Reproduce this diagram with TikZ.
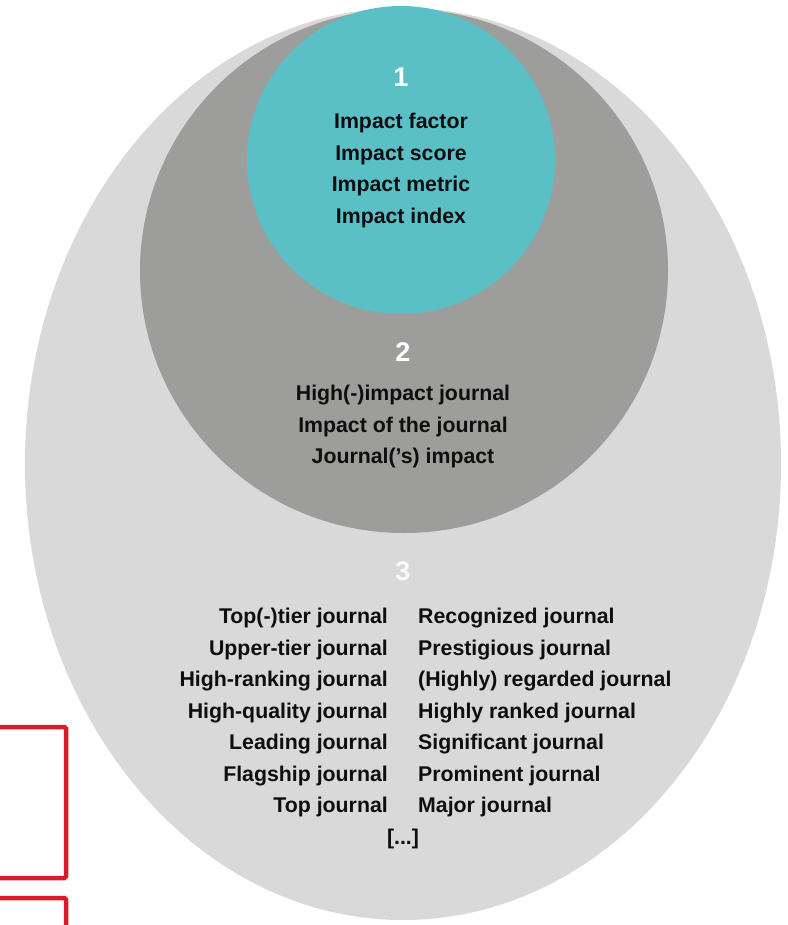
\documentclass[tikz,border=0pt]{standalone}
\usepackage{fontspec}
\setmainfont{Liberation Sans}
\definecolor{lightg}{HTML}{D9D9D9}
\definecolor{darkg}{HTML}{9D9D9B}
\definecolor{tealc}{HTML}{5BC0C6}
\definecolor{redc}{HTML}{D21F2B}
\definecolor{txt}{HTML}{0E0E0E}
\begin{document}
\begin{tikzpicture}[x=1pt,y=-1pt,
  lbl/.style={font=\bfseries\fontsize{21.3}{31.5}\selectfont, text=txt, inner sep=0pt},
  num/.style={font=\bfseries\fontsize{27}{30}\selectfont, text=white, inner sep=0pt},
  redbox/.style={draw=redc, line width=4.5pt, rounded corners=1.5pt}]
\useasboundingbox (0,0) rectangle (787,925);
% regions
\fill[lightg] (403,464) ellipse [x radius=378, y radius=456];
\fill[darkg] (404,271) ellipse [x radius=264, y radius=262];
\fill[tealc] (401,160) circle [radius=154];
% level 1
\node[num] (n1) at (401,77) {1};
\node[lbl, align=center, anchor=north] (t1) at (401,113) {Impact factor\\Impact score\\Impact metric\\Impact index};
% level 2
\node[num] (n2) at (403,352) {2};
\node[lbl, align=center, anchor=north] (t2) at (403,385) {High(-)impact journal\\Impact of the journal\\Journal('s) impact};
% level 3
\node[num, text=white!85!lightg] (n3) at (403,571) {3};
\node[lbl, align=right, anchor=north east] (t3l) at (388,608) {Top(-)tier journal\\Upper-tier journal\\High-ranking journal\\High-quality journal\\Leading journal\\Flagship journal\\Top journal};
\node[lbl, align=left, anchor=north west] (t3r) at (418,608) {Recognized journal\\Prestigious journal\\(Highly) regarded journal\\Highly ranked journal\\Significant journal\\Prominent journal\\Major journal};
\node[lbl] (dots) at (403,839) {[...]};
% red boxes
\draw[redbox] (-5,727) -- (66,727) -- (66,878) -- (-5,878);
\draw[redbox] (-5,898) -- (66,898) -- (66,935);
\end{tikzpicture}
\end{document}
